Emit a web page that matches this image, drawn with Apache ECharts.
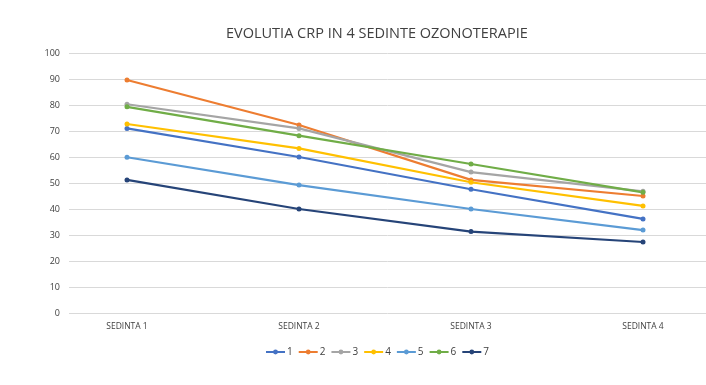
<!DOCTYPE html>
<html><head><meta charset="utf-8">
<script src="https://cdn.jsdelivr.net/npm/echarts@6/dist/echarts.min.js"></script>
<style>html,body{margin:0;padding:0;background:#fff}#c{width:706px;height:385px}</style>
</head><body><div id="c"></div>
<script>
const title = 'EVOLUTIA CRP IN 4 SEDINTE OZONOTERAPIE';
const categories = ['SEDINTA 1','SEDINTA 2','SEDINTA 3','SEDINTA 4'];
const seriesNames = ['1','2','3','4','5','6','7'];
const s1 = [71, 60, 47.6, 36.2];
const s2 = [89.6, 72.3, 51.2, 45];
const s3 = [80.3, 71, 54.2, 46.8];
const s4 = [72.7, 63.3, 50.3, 41.2];
const s5 = [59.9, 49.2, 40, 31.9];
const s6 = [79.3, 68.2, 57.3, 46.4];
const s7 = [51.2, 40, 31.3, 27.3];
const yTicks = [0,10,20,30,40,50,60,70,80,90,100];

const values = [s1,s2,s3,s4,s5,s6,s7];
const colors = ['#4472C4','#ED7D31','#A5A5A5','#FFC000','#5B9BD5','#70AD47','#264478'];
const font = '"Open Sans", "Liberation Sans", sans-serif';

const chart = echarts.init(document.getElementById('c'));
chart.setOption({
  animation: false,
  title: { text: title, left: 221, top: 21, textStyle: { fontFamily: font, fontSize: 14.5, fontWeight: 'normal', color: '#404040' } },
  legend: { data: seriesNames, left: 260, top: 342, itemWidth: 19, itemHeight: 6, itemGap: 5,
    textStyle: { fontFamily: font, fontSize: 10, color: '#404040', padding: [0,0,0,-3] } },
  grid: [
    { left: 69, right: 0, top: 53, bottom: 72, containLabel: false },
    { left: 127, right: 63, top: 53, bottom: 72, containLabel: false }
  ],
  xAxis: [
    { gridIndex: 0, type: 'category', data: categories, show: false },
    { gridIndex: 1, type: 'category', data: categories, boundaryGap: false,
      axisLine: { show: false }, axisTick: { show: false },
      axisLabel: { fontFamily: font, fontSize: 8.5, color: '#404040', margin: 9 } }
  ],
  yAxis: [
    { gridIndex: 0, type: 'value', min: yTicks[0], max: yTicks[yTicks.length-1], interval: 10,
      axisLine: { show: false }, axisTick: { show: false },
      axisLabel: { fontFamily: font, fontSize: 9, color: '#404040', margin: 9 },
      splitLine: { lineStyle: { color: '#D9D9D9', width: 1 } } },
    { gridIndex: 1, type: 'value', min: yTicks[0], max: yTicks[yTicks.length-1], interval: 10, show: false,
      splitLine: { show: false } }
  ],
  series: values.map((v, i) => ({
    name: seriesNames[i], type: 'line', xAxisIndex: 1, yAxisIndex: 1, data: v,
    symbol: 'circle', symbolSize: 5, showSymbol: true,
    itemStyle: { color: colors[i] }, lineStyle: { color: colors[i], width: 2.2 }
  }))
});
</script></body></html>
